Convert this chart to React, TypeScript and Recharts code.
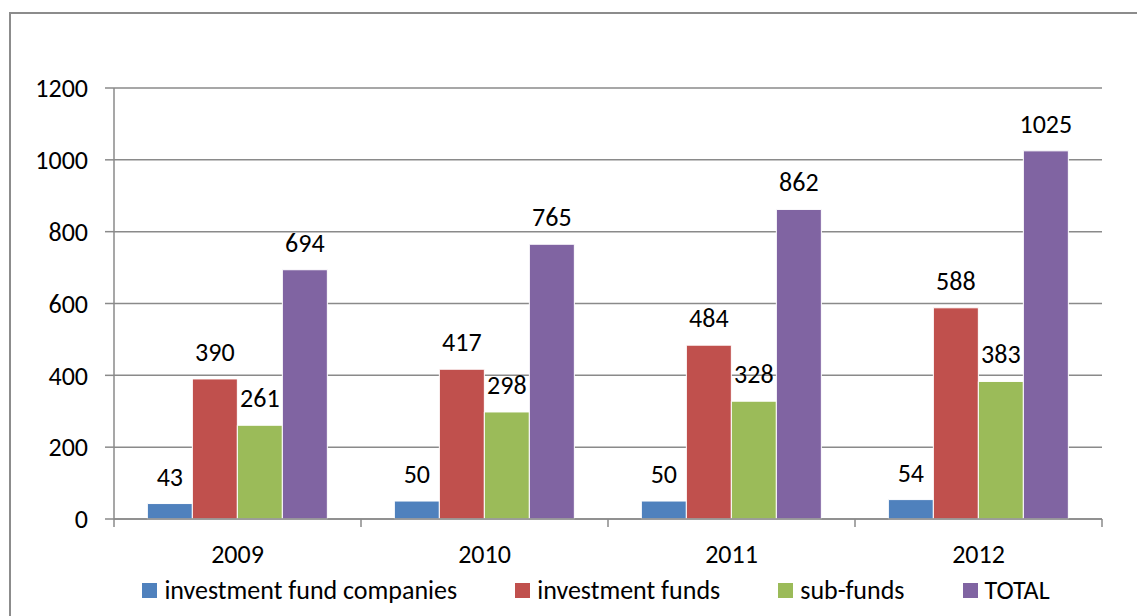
import React from 'react';
import {
  BarChart,
  Bar,
  XAxis,
  YAxis,
  CartesianGrid,
  Legend,
  LabelList
} from 'recharts';

const years = ['2009', '2010', '2011', '2012'];
const fundCompanies = [43, 50, 50, 54];
const investmentFunds = [390, 417, 484, 588];
const subFunds = [261, 298, 328, 383];
const total = [694, 765, 862, 1025];
const yTicks = [0, 200, 400, 600, 800, 1000, 1200];

const series = [
  { key: 'companies', name: 'investment fund companies', color: '#4F81BD' },
  { key: 'funds', name: 'investment funds', color: '#C0504D' },
  { key: 'subFunds', name: 'sub-funds', color: '#9BBB59' },
  { key: 'total', name: 'TOTAL', color: '#8064A2' },
];

const data = years.map((year, i) => ({
  year,
  companies: fundCompanies[i],
  funds: investmentFunds[i],
  subFunds: subFunds[i],
  total: total[i],
}));

const FONT = 'Carlito, Calibri, Lato, sans-serif';
const FS = 26;
const GRID = '#8a8a8a';

const XTick = (props: any) => {
  const { x, y, payload, index, visibleTicksCount, width } = props;
  const band = (width || 988) / (visibleTicksCount || 4);
  const top = y - 8;
  return (
    <g>
      <line x1={x - band / 2} y1={top} x2={x - band / 2} y2={top + 8} stroke={GRID} strokeWidth={1.5} />
      {index === visibleTicksCount - 1 && (
        <line x1={x + band / 2} y1={top} x2={x + band / 2} y2={top + 8} stroke={GRID} strokeWidth={1.5} />
      )}
      <text x={x} y={y + 36} textAnchor="middle" fill="#000" fontSize={FS} fontFamily={FONT}>
        {payload.value}
      </text>
    </g>
  );
};

const LegendContent = () => (
  <div
    style={{
      display: 'flex',
      justifyContent: 'center',
      alignItems: 'center',
      paddingTop: 8,
      paddingLeft: 90,
      height: 30,
      fontFamily: FONT,
      fontSize: FS,
      color: '#000',
    }}
  >
    {series.map((s, i) => (
      <div
        key={s.key}
        style={{ display: 'flex', alignItems: 'center', marginRight: i === series.length - 1 ? 0 : 58 }}
      >
        <span style={{ width: 15, height: 15, background: s.color, marginRight: 7, display: 'inline-block' }} />
        <span>{s.name}</span>
      </div>
    ))}
  </div>
);

const App: React.FC = () => {
  return (
    <div style={{ position: 'absolute', left: 0, top: 0, width: 1137, height: 616, background: '#fff', overflow: 'hidden' }}>
      <div
        style={{
          position: 'absolute',
          left: 9,
          top: 12,
          width: 1200,
          height: 700,
          borderTop: '2px solid #8c8c8c',
          borderLeft: '2px solid #8c8c8c',
        }}
      />
      <div style={{ position: 'absolute', left: 0, top: 0 }}>
        <BarChart
          width={1137}
          height={616}
          data={data}
          margin={{ top: 88, right: 35, left: 0, bottom: 11 }}
          barGap={0}
          barCategoryGap="13.5%"
        >
          <CartesianGrid vertical={false} stroke={GRID} strokeWidth={1.5} />
          <XAxis
            dataKey="year"
            height={48}
            axisLine={{ stroke: GRID, strokeWidth: 1.5 }}
            tickLine={false}
            tick={<XTick />}
            interval={0}
          />
          <YAxis
            width={114}
            domain={[0, 1200]}
            ticks={yTicks}
            interval={0}
            axisLine={{ stroke: GRID, strokeWidth: 1.5 }}
            tickLine={{ stroke: GRID, strokeWidth: 1.5 }}
            tickSize={9}
            tickMargin={17}
            tick={{ fill: '#000', fontSize: FS, fontFamily: FONT }}
          />
          <Legend verticalAlign="bottom" content={<LegendContent />} />
          {series.map((s) => (
            <Bar
              key={s.key}
              dataKey={s.key}
              name={s.name}
              fill={s.color}
              stroke="#fff"
              strokeWidth={1}
              isAnimationActive={false}
            >
              <LabelList
                dataKey={s.key}
                position="top"
                offset={18}
                fill="#000"
                fontSize={FS}
                fontFamily={FONT}
              />
            </Bar>
          ))}
        </BarChart>
      </div>
    </div>
  );
};

export default App;
